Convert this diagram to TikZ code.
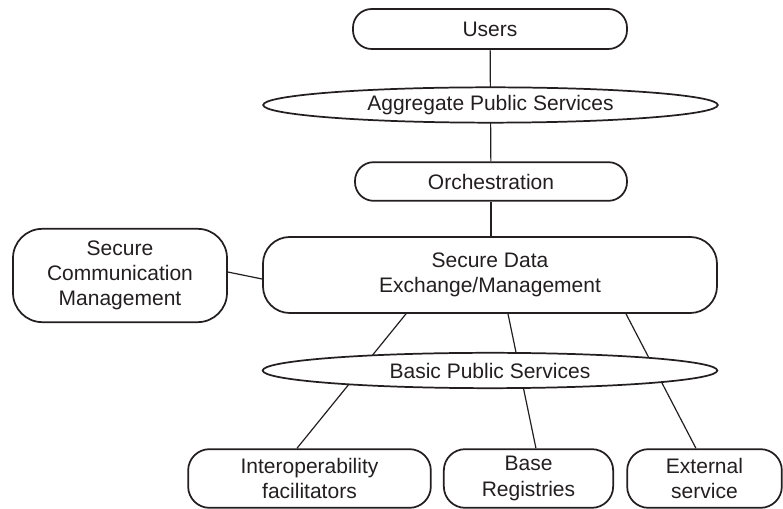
\documentclass[tikz,border=0pt]{standalone}
\usepackage{fontspec}
\setmainfont{Liberation Sans}
\usepackage{xcolor}
\usepackage{tikz}
\usetikzlibrary{shapes.geometric}
\definecolor{ink}{HTML}{231F20}
\tikzset{box/.style = {draw=ink, line width=1.3pt, rounded corners=14pt,
    fill=white, align=center, inner sep=0pt},
  oval/.style = {draw=ink, ellipse, line width=1.3pt, fill=white, inner sep=0pt,
    minimum width=341pt, minimum height=26.5pt},
  link/.style = {draw=ink, line width=0.9pt}}

\begin{document}
\begin{tikzpicture}[x=0.75pt,y=-0.75pt,
    every node/.style={font=\fontsize{15.75}{19}\selectfont, text=ink}]
  \useasboundingbox (0,0) rectangle (783,509);
  % top column
  \node[box, minimum width=205.5pt, minimum height=30pt] (U) at (490,29) {Users};
  \node[box, minimum width=204pt, minimum height=29pt] (O) at (491,181.5) {Orchestration};
  \node[box, rounded corners=20pt, minimum width=340.5pt, minimum height=57pt]
    (SDE) at (490,275) {Secure Data\\Exchange/Management};
  \node[box, rounded corners=22pt, minimum width=160.5pt, minimum height=70pt]
    (SCM) at (120,275.5) {Secure\\Communication\\Management};
  % bottom row
  \node[box, rounded corners=16pt, minimum width=182pt, minimum height=44pt]
    (IF) at (309.5,478.5) {Interoperability\\facilitators};
  \node[box, rounded corners=16pt, minimum width=127pt, minimum height=44pt]
    (BR) at (528.5,478.5) {Base\\Registries};
  \node[box, rounded corners=16pt, minimum width=116pt, minimum height=44pt]
    (ES) at (704.5,478.5) {External\\service};
  % connectors
  \draw[link] (U) -- (O);
  \draw[link] (O.south) -- (O.south |- SDE.north);
  \draw[link] ([yshift=2.6pt]SCM.east) -- ([yshift=-3pt]SDE.west);
  \draw[link] ([xshift=-63pt]SDE.south) -- ([xshift=-9.4pt]IF.north);
  \draw[link] ([xshift=13.5pt]SDE.south) -- ([xshift=5.6pt]BR.north);
  \draw[link] ([xshift=102pt]SDE.south) -- ([xshift=-6.4pt]ES.north);
  % layers over the lines
  \node[oval] (APS) at (490.5,105) {Aggregate Public Services};
  \node[oval] (BPS) at (490,370.5) {Basic Public Services};
\end{tikzpicture}
\end{document}
